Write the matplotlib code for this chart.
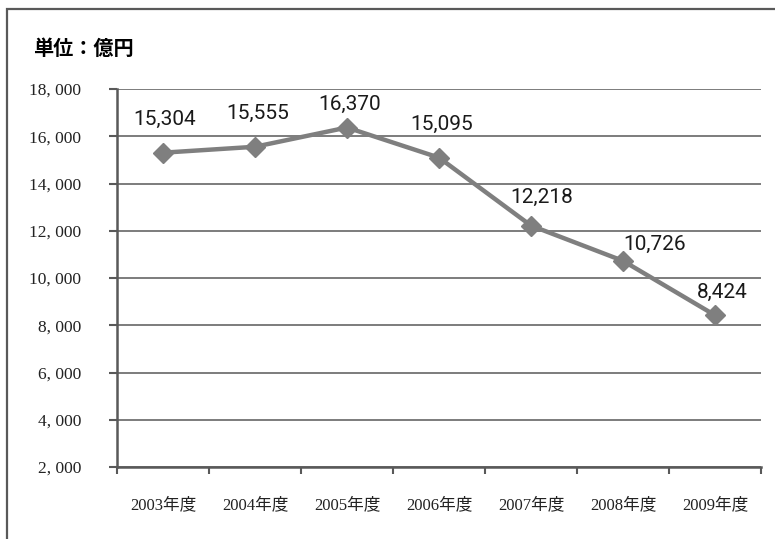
import matplotlib
matplotlib.use("Agg")
import matplotlib.pyplot as plt
from matplotlib import font_manager
from matplotlib.patches import Rectangle

years = ["2003年度", "2004年度", "2005年度", "2006年度", "2007年度", "2008年度", "2009年度"]
values = [15304, 15555, 16370, 15095, 12218, 10726, 8424]
yticks = [2000, 4000, 6000, 8000, 10000, 12000, 14000, 16000, 18000]
title = "単位：億円"

# label offsets (points) as placed in the original
label_offsets = [(1.5, 24), (2, 24), (2, 17), (2, 24), (8, 20), (23, 12), (5, 16.5)]

installed = {f.name for f in font_manager.fontManager.ttflist}
narrow = "Liberation Sans Narrow" if "Liberation Sans Narrow" in installed else "Roboto"
serif_cjk = ["Liberation Serif", "Noto Sans CJK JP"]

grey = "#595959"
line_col = "#7f7f7f"

fig = plt.figure(figsize=(7.75, 5.39), dpi=100)
ax = fig.add_axes([117 / 775, 72 / 539, 644 / 775, 378 / 539])

x = list(range(len(values)))
ax.plot(x, values, color=line_col, lw=3.2, marker="D", markersize=10.5,
        markerfacecolor=line_col, markeredgecolor=line_col, zorder=3, clip_on=False)

for xi, v, (dx, dy) in zip(x, values, label_offsets):
    ax.annotate(f"{v:,}", (xi, v), xytext=(dx, dy), textcoords="offset points",
                ha="center", va="center", fontsize=15, family=narrow,
                color="#1a1a1a")

ax.set_xlim(-0.5, len(values) - 0.5)
ax.set_ylim(yticks[0], yticks[-1])
ax.set_yticks(yticks)
ax.set_yticklabels([f"{v:,}".replace(",", ", ") for v in yticks],
                   family="Liberation Serif", fontsize=12.5, color="#222222")
ax.grid(axis="y", color=grey, lw=1.1)
ax.set_axisbelow(True)

ax.set_xticks([i - 0.5 for i in range(len(values) + 1)])
ax.set_xticklabels([])
ax.set_xticks(x, minor=True)
ax.set_xticklabels(years, minor=True, family=serif_cjk, fontsize=12, color="#222222")
ax.tick_params(axis="x", which="major", length=5, width=1.5, color=grey, direction="out")
ax.tick_params(axis="x", which="minor", length=0, pad=22)
ax.tick_params(axis="y", length=6, width=1.5, color=grey, direction="out", pad=20)

for s in ["top", "right"]:
    ax.spines[s].set_visible(False)
for s in ["left", "bottom"]:
    ax.spines[s].set_color(grey)
    ax.spines[s].set_linewidth(1.8)

fig.text(33 / 775, 1 - 48 / 539, title, fontsize=14.5, fontweight="bold",
         family=["Noto Sans CJK JP", "DejaVu Sans"], ha="left", va="center")

fig.patches.append(Rectangle((7 / 775, -0.1), 1.2, 1 - 9 / 539 + 0.1,
                             transform=fig.transFigure, fill=False,
                             edgecolor=grey, lw=1.6))

fig.savefig("out.png", dpi=100)
